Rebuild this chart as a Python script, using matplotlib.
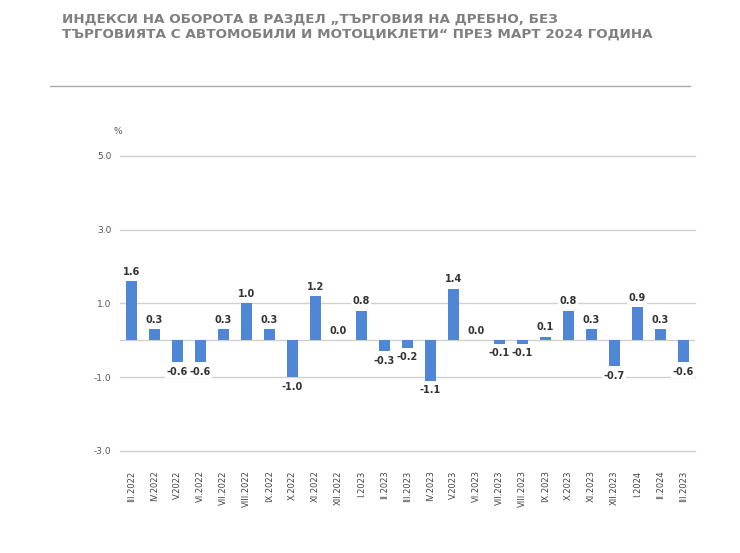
import numpy as np
import matplotlib.pyplot as plt

months = ['III.2022', 'IV.2022', 'V.2022', 'VI.2022', 'VII.2022', 'VIII.2022',
          'IX.2022', 'X.2022', 'XI.2022', 'XII.2022', 'I.2023', 'II.2023',
          'III.2023', 'IV.2023', 'V.2023', 'VI.2023', 'VII.2023', 'VIII.2023',
          'IX.2023', 'X.2023', 'XI.2023', 'XII.2023', 'I.2024', 'II.2024',
          'III.2023']
values = [1.6, 0.3, -0.6, -0.6, 0.3, 1.0, 0.3, -1.0, 1.2, 0.0, 0.8, -0.3,
          -0.2, -1.1, 1.4, 0.0, -0.1, -0.1, 0.1, 0.8, 0.3, -0.7, 0.9, 0.3,
          -0.6]
yticks = [-3.0, -1.0, 1.0, 3.0, 5.0]

title = ('ИНДЕКСИ НА ОБОРОТА В РАЗДЕЛ „ТЪРГОВИЯ НА ДРЕБНО, БЕЗ\n'
         'ТЪРГОВИЯТА С АВТОМОБИЛИ И МОТОЦИКЛЕТИ“ ПРЕЗ МАРТ 2024 ГОДИНА')

fig = plt.figure(figsize=(7.4, 5.53), dpi=100)
ax = fig.add_axes([0.162, 0.1845, 0.777, 0.5335])

x = np.arange(len(values))
ax.bar(x, values, width=0.48, color='#4F87D6', zorder=3)

ax.set_xlim(-0.5, len(values) - 0.5)
ax.set_ylim(-3, 5)
ax.set_yticks(yticks)
ax.set_yticklabels([f'{t:.1f}' for t in yticks], fontsize=6.5, color='#555555')
ax.yaxis.grid(True, color='#d0d0d0', linewidth=1, zorder=0)
for gl in ax.get_ygridlines():
    gl.set_clip_on(False)
ax.axhline(0, color='#d0d0d0', linewidth=1, zorder=1)
ax.tick_params(axis='y', length=0, pad=6)
ax.set_xticks(x)
ax.set_xticklabels(months, rotation=90, fontsize=6, color='#444444',
                   va='top')
ax.tick_params(axis='x', length=0, pad=14)
for s in ax.spines.values():
    s.set_visible(False)

for xi, v in zip(x, values):
    if v >= 0:
        y, va = v + 0.12, 'bottom'
    else:
        y, va = v - 0.12, 'top'
    ax.text(xi, y, f'{v:.1f}', ha='center', va=va, fontsize=7,
            fontweight='bold', color='#333333', zorder=4,
            bbox=dict(facecolor='white', edgecolor='none', pad=1))

fig.text(0.153, 0.757, '%', fontsize=6.5, color='#555555')

fig.text(0.084, 0.978, title, fontsize=9.7, fontweight='bold', color='#7f7f7f',
         va='top', linespacing=1.2)
fig.add_artist(plt.Line2D([0.068, 0.932], [0.845, 0.845], color='#aaaaaa',
                          linewidth=1))

fig.savefig('out.png', dpi=100)
